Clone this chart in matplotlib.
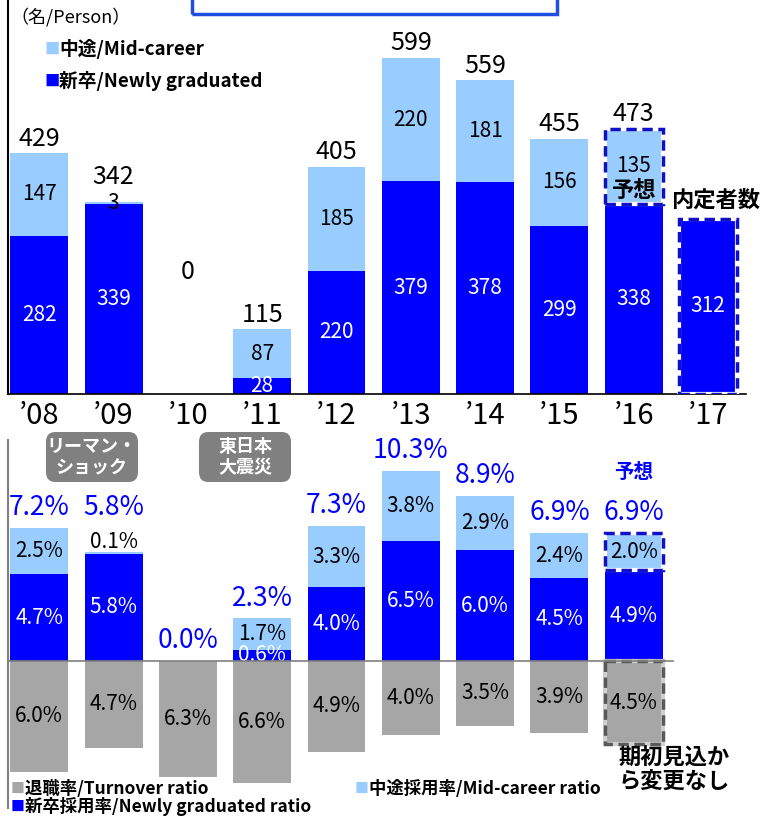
import matplotlib
matplotlib.use('Agg')
import matplotlib.pyplot as plt
from matplotlib.patches import Rectangle, FancyBboxPatch
import numpy as np

plt.rcParams['font.family'] = ['Noto Sans CJK JP', 'DejaVu Sans']

# ---- data ----
years = ["’08", "’09", "’10", "’11", "’12", "’13", "’14", "’15", "’16", "’17"]
new_grad = [282, 339, 0, 28, 220, 379, 378, 299, 338, 312]
mid_career = [147, 3, 0, 87, 185, 220, 181, 156, 135, 0]
totals = [429, 342, 0, 115, 405, 599, 559, 455, 473]

# ratios (%), '08 - '16
new_ratio = [4.7, 5.8, 0.0, 0.6, 4.0, 6.5, 6.0, 4.5, 4.9]
mid_ratio = [2.5, 0.1, 0.0, 1.7, 3.3, 3.8, 2.9, 2.4, 2.0]
total_ratio = [7.2, 5.8, 0.0, 2.3, 7.3, 10.3, 8.9, 6.9, 6.9]
turnover = [6.0, 4.7, 6.3, 6.6, 4.9, 4.0, 3.5, 3.9, 4.5]

BLUE = '#0000FF'
LIGHT = '#99CCFF'
GRAY = '#A6A6A6'
DARKBLUE = '#1010C8'

W, H = 762, 819
fig = plt.figure(figsize=(W / 100, H / 100), dpi=100)


def fx(px):
    return px / W


def fy(py):
    return 1 - py / H


ax1 = fig.add_axes([fx(8), fy(394), (746 - 8) / W, 394 / H])
ax2 = fig.add_axes([fx(8), fy(808), (746 - 8) / W, (808 - 440) / H])
bw = 0.78

# ---- top chart: number of hires ----
x = np.arange(len(years))
ax1.bar(x, new_grad, bw, color=BLUE, zorder=2)
ax1.bar(x, mid_career, bw, bottom=new_grad, color=LIGHT, zorder=2)

# forecast / offer outlines
ax1.bar(8, mid_career[8], bw, bottom=new_grad[8], fill=False, edgecolor='white', lw=3, zorder=3)
ax1.bar(8, mid_career[8], bw, bottom=new_grad[8], fill=False, edgecolor=DARKBLUE, lw=2.5,
        ls=(0, (3, 1.6)), zorder=4)
ax1.bar(9, new_grad[9], bw, fill=False, edgecolor='white', lw=3, zorder=3)
ax1.bar(9, new_grad[9], bw, fill=False, edgecolor=DARKBLUE, lw=2.5, ls=(0, (3, 1.6)), zorder=4)

for i in range(len(years)):
    if new_grad[i] > 0:
        ax1.text(i, new_grad[i] / 2, str(new_grad[i]), ha='center', va='center',
                 color='white', fontsize=15, zorder=5)
    if mid_career[i] > 0:
        ax1.text(i, new_grad[i] + mid_career[i] / 2, str(mid_career[i]), ha='center',
                 va='center', color='black', fontsize=15, zorder=5)
for i, t in enumerate(totals):
    if t == 0:
        ax1.text(i, 217, "0", ha='center', va='center', fontsize=18)
    else:
        off = 9 if mid_career[i] < 20 else 1
        ax1.annotate(str(t), (i, t), xytext=(0, off), textcoords='offset points',
                     ha='center', va='bottom', fontsize=18)
ax1.text(8, new_grad[8] + 25, "予想", ha='center', va='center', fontsize=16,
         fontweight='bold', zorder=5)
ax1.text(9.1, 345, "内定者数", ha='center', va='center', fontsize=16, fontweight='bold')

ax1.set_xlim(-0.42, 9.51)
ax1.set_ylim(0, 702)
ax1.set_yticks([])
ax1.set_xticks(x, years, fontsize=21)
ax1.tick_params(length=0, pad=5)
for s in ['top', 'right']:
    ax1.spines[s].set_visible(False)
ax1.spines['left'].set_linewidth(1.5)
ax1.spines['bottom'].set_linewidth(1.2)

# ---- bottom chart: ratios ----
x9 = np.arange(len(new_ratio))
ax2.bar(x9, new_ratio, bw, color=BLUE, zorder=2)
ax2.bar(x9, mid_ratio, bw, bottom=new_ratio, color=LIGHT, zorder=2)
neg = [-t for t in turnover]
ax2.bar(x9, neg, bw, color=GRAY, zorder=2)

ax2.bar(8, mid_ratio[8], bw, bottom=new_ratio[8], fill=False, edgecolor='white', lw=3, zorder=3)
ax2.bar(8, mid_ratio[8], bw, bottom=new_ratio[8], fill=False, edgecolor=DARKBLUE, lw=2.5,
        ls=(0, (3, 1.6)), zorder=4)
ax2.bar(8, neg[8], bw, fill=False, edgecolor='#D0D0D0', lw=3, zorder=3)
ax2.bar(8, neg[8], bw, fill=False, edgecolor='#595959', lw=2.5, ls=(0, (3, 1.6)), zorder=4)

for i in range(len(x9)):
    top = new_ratio[i] + mid_ratio[i]
    if new_ratio[i] > 0:
        ax2.text(i, new_ratio[i] / 2, f"{new_ratio[i]:.1f}%", ha='center', va='center',
                 color='white', fontsize=15, zorder=5)
    if mid_ratio[i] >= 0.5:
        ax2.text(i, new_ratio[i] + mid_ratio[i] / 2, f"{mid_ratio[i]:.1f}%", ha='center',
                 va='center', color='black', fontsize=15, zorder=5)
    elif mid_ratio[i] > 0:
        ax2.annotate(f"{mid_ratio[i]:.1f}%", (i, top), xytext=(0, -1),
                     textcoords='offset points', ha='center', va='bottom', fontsize=15)
    off = 22 if 0 < mid_ratio[i] < 0.5 else 5
    ax2.annotate(f"{total_ratio[i]:.1f}%", (i, top), xytext=(0, off),
                 textcoords='offset points', ha='center', va='bottom', fontsize=19, color=BLUE)
    ax2.text(i, neg[i] / 2, f"{turnover[i]:.1f}%", ha='center', va='center',
             color='black', fontsize=15, zorder=5)
ax2.annotate("予想", (8, new_ratio[8] + mid_ratio[8]), xytext=(0, 37),
             textcoords='offset points', ha='center', va='bottom', fontsize=14,
             fontweight='bold', color=BLUE)

ax2.axhline(0, xmin=0, xmax=(673 - 8) / 738, color='#808080', lw=1.2, zorder=6)
ax2.set_xlim(-0.42, 9.51)
ax2.set_ylim(-7.95, 11.95)
ax2.set_xticks([])
ax2.set_yticks([])
for s in ['top', 'right', 'bottom']:
    ax2.spines[s].set_visible(False)
ax2.spines['left'].set_color('#808080')
ax2.spines['left'].set_linewidth(1.5)

# ---- figure annotations ----
fig.add_artist(Rectangle((fx(192), fy(14)), (557 - 192) / W, 40 / H, fill=False,
                         edgecolor='#1F4FE0', lw=2.5, transform=fig.transFigure))

fig.text(fx(10), fy(17), "（名/Person）", ha='left', va='center', fontsize=13)
fig.text(fx(44), fy(49), "■", color=LIGHT, ha='left', va='center', fontsize=11)
fig.text(fx(59), fy(49), "中途/Mid-career", ha='left', va='center', fontsize=13.5,
         fontweight='bold')
fig.text(fx(44), fy(81), "■", color=BLUE, ha='left', va='center', fontsize=11)
fig.text(fx(59), fy(81), "新卒/Newly graduated", ha='left', va='center', fontsize=13.5,
         fontweight='bold')

for cx, label in [(92, "リーマン・\nショック"), (245, "東日本\n大震災")]:
    fig.add_artist(FancyBboxPatch((fx(cx - 46), fy(482)), 92 / W, 50 / H,
                                  boxstyle="round,pad=0,rounding_size=0.012",
                                  facecolor='#808080', edgecolor='none',
                                  transform=fig.transFigure))
    fig.text(fx(cx), fy(457), label, ha='center', va='center', fontsize=13,
             fontweight='bold', color='white', linespacing=1.15)

fig.text(fx(674), fy(770), "期初見込か\nら変更なし", ha='center', va='center', fontsize=16,
         fontweight='bold', linespacing=1.05)

fig.text(fx(11), fy(789), "■", color=GRAY, ha='left', va='center', fontsize=10)
fig.text(fx(25), fy(789), "退職率/Turnover ratio", ha='left', va='center', fontsize=12.5,
         fontweight='bold')
fig.text(fx(355), fy(789), "■", color=LIGHT, ha='left', va='center', fontsize=10)
fig.text(fx(369), fy(789), "中途採用率/Mid-career ratio", ha='left', va='center',
         fontsize=12.5, fontweight='bold')
fig.text(fx(11), fy(807), "■", color=BLUE, ha='left', va='center', fontsize=10)
fig.text(fx(25), fy(807), "新卒採用率/Newly graduated ratio", ha='left', va='center',
         fontsize=12.5, fontweight='bold')

fig.savefig('out.png', dpi=100)
